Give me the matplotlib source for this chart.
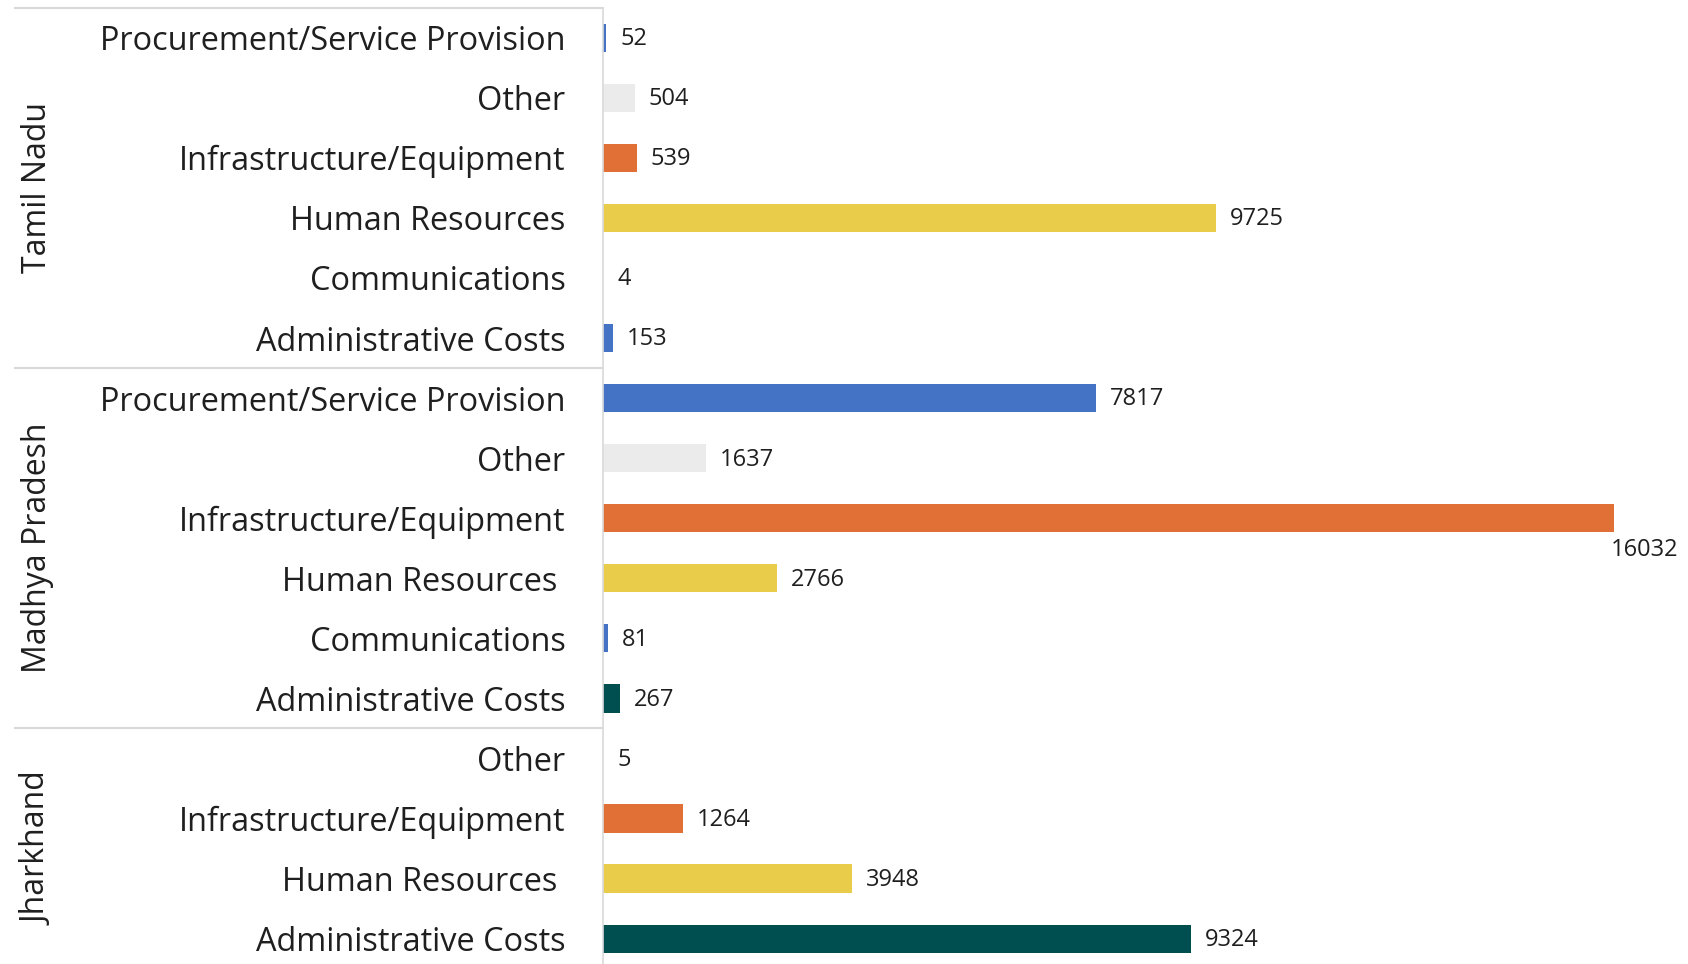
import matplotlib
matplotlib.use("Agg")
from matplotlib import pyplot as plt

# rows from top to bottom
STATES = ['Tamil Nadu', 'Madhya Pradesh', 'Jharkhand']
TN_CATS = ['Procurement/Service Provision', 'Other', 'Infrastructure/Equipment',
           'Human Resources', 'Communications', 'Administrative Costs']
TN_VALS = [52, 504, 539, 9725, 4, 153]
MP_CATS = ['Procurement/Service Provision', 'Other', 'Infrastructure/Equipment',
           'Human Resources ', 'Communications', 'Administrative Costs']
MP_VALS = [7817, 1637, 16032, 2766, 81, 267]
JH_CATS = ['Other', 'Infrastructure/Equipment', 'Human Resources ', 'Administrative Costs']
JH_VALS = [5, 1264, 3948, 9324]

BLUE = '#4472C4'
GREY = '#EBEBEB'
ORANGE = '#E07035'
YELLOW = '#E8CC4A'
TEAL = '#004F50'
TN_COLORS = [BLUE, GREY, ORANGE, YELLOW, BLUE, BLUE]
MP_COLORS = [BLUE, GREY, ORANGE, YELLOW, BLUE, TEAL]
JH_COLORS = [GREY, ORANGE, YELLOW, TEAL]

plt.rcParams['font.family'] = ['Open Sans', 'DejaVu Sans']

cats = TN_CATS + MP_CATS + JH_CATS
vals = TN_VALS + MP_VALS + JH_VALS
colors = TN_COLORS + MP_COLORS + JH_COLORS
groups = [TN_CATS, MP_CATS, JH_CATS]
y = list(range(len(cats)))

W, H = 1688, 964
fig = plt.figure(figsize=(W / 100, H / 100), dpi=100)
left, right, top = 603, 1614, 7.7
bottom = top + 60.06 * len(cats)
ax = fig.add_axes([left / W, 1 - bottom / H, (right - left) / W, (bottom - top) / H])

ax.barh(y, vals, height=0.47, color=colors)
ax.set_xlim(0, max(vals))
ax.set_ylim(len(cats) - 0.5, -0.5)
ax.set_yticks(y)
ax.set_yticklabels(cats, fontsize=23.4, color='#1f1f1f')
ax.tick_params(axis='y', length=0, pad=27)
ax.xaxis.set_visible(False)
for s in ['top', 'right', 'bottom']:
    ax.spines[s].set_visible(False)
ax.spines['left'].set_color('#D9D9D9')
ax.spines['left'].set_linewidth(1.2)

# value labels
for yi, v in zip(y, vals):
    if v == max(vals):
        ax.annotate(str(v), (v, yi), xytext=(-2, -23), textcoords='offset points',
                    ha='left', va='center', fontsize=17, color='#1f1f1f')
    else:
        ax.annotate(str(v), (v, yi), xytext=(10, -1), textcoords='offset points',
                    ha='left', va='center', fontsize=17, color='#1f1f1f')

# group boxes and state labels
tr = ax.get_yaxis_transform()
x0 = (15 - left) / (right - left)
start = 0
for name, g in zip(STATES, groups):
    ax.plot([x0, 0], [start - 0.5, start - 0.5], transform=tr, color='#D9D9D9',
            lw=1.5, clip_on=False)
    ax.text((38 - left) / (right - left), start + (len(g) - 1) / 2, name, transform=tr,
            rotation=90, ha='center', va='center', fontsize=23, color='#1f1f1f')
    start += len(g)

fig.savefig('out.png', dpi=100)
